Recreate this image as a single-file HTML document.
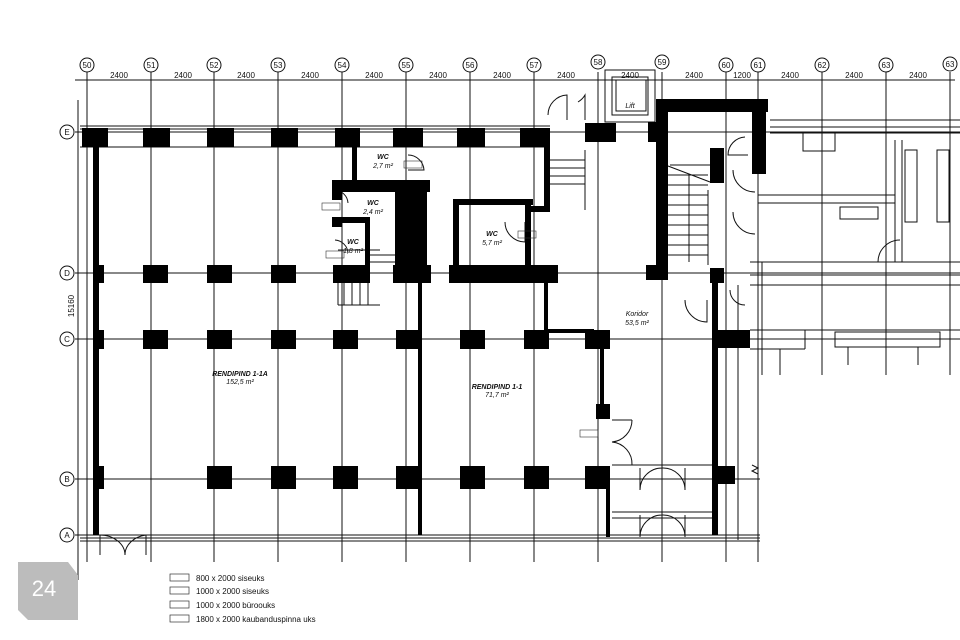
<!DOCTYPE html>
<html><head><meta charset="utf-8"><style>
html,body{margin:0;padding:0;background:#fff;}
svg{display:block;font-family:"Liberation Sans",sans-serif;}
</style></head><body>
<svg width="960" height="640" viewBox="0 0 960 640" xmlns="http://www.w3.org/2000/svg">
<rect width="960" height="640" fill="#fff"/>
<g stroke="#111" stroke-width="1">
<line x1="87" y1="72" x2="87" y2="562"/><line x1="151" y1="72" x2="151" y2="562"/>
<line x1="214" y1="72" x2="214" y2="562"/><line x1="278" y1="72" x2="278" y2="562"/>
<line x1="342" y1="72" x2="342" y2="562"/><line x1="406" y1="72" x2="406" y2="562"/>
<line x1="470" y1="72" x2="470" y2="562"/><line x1="534" y1="72" x2="534" y2="562"/>
<line x1="598" y1="72" x2="598" y2="562"/><line x1="662" y1="72" x2="662" y2="562"/>
<line x1="726" y1="72" x2="726" y2="562"/><line x1="758" y1="72" x2="758" y2="562"/>
<line x1="822" y1="72" x2="822" y2="375"/><line x1="886" y1="72" x2="886" y2="375"/>
<line x1="950" y1="72" x2="950" y2="375"/>
<line x1="75" y1="80" x2="955" y2="80"/>
<line x1="75" y1="132" x2="960" y2="132"/>
<line x1="75" y1="273" x2="960" y2="273"/>
<line x1="75" y1="339" x2="960" y2="339"/>
<line x1="75" y1="479" x2="760" y2="479"/>
<line x1="75" y1="535" x2="760" y2="535"/>
<line x1="78" y1="100" x2="78" y2="580"/>
</g>
<g fill="#fff" stroke="#111" stroke-width="1">
<circle cx="87" cy="65" r="7"/><circle cx="151" cy="65" r="7"/><circle cx="214" cy="65" r="7"/><circle cx="278" cy="65" r="7"/><circle cx="342" cy="65" r="7"/><circle cx="406" cy="65" r="7"/><circle cx="470" cy="65" r="7"/><circle cx="534" cy="65" r="7"/><circle cx="598" cy="62" r="7"/><circle cx="662" cy="62" r="7"/><circle cx="726" cy="65" r="7"/><circle cx="758" cy="65" r="7"/><circle cx="822" cy="65" r="7"/><circle cx="886" cy="65" r="7"/><circle cx="950" cy="64" r="7"/>
<circle cx="67" cy="132" r="7"/><circle cx="67" cy="273" r="7"/><circle cx="67" cy="339" r="7"/><circle cx="67" cy="479" r="7"/><circle cx="67" cy="535" r="7"/>
</g>
<g font-size="8" text-anchor="middle" fill="#111">
<text x="87" y="68">50</text><text x="151" y="68">51</text><text x="214" y="68">52</text><text x="278" y="68">53</text><text x="342" y="68">54</text><text x="406" y="68">55</text><text x="470" y="68">56</text><text x="534" y="68">57</text><text x="598" y="65">58</text><text x="662" y="65">59</text><text x="726" y="68">60</text><text x="758" y="68">61</text><text x="822" y="68">62</text><text x="886" y="68">63</text><text x="950" y="67">63</text>
<text x="67" y="135">E</text><text x="67" y="276">D</text><text x="67" y="342">C</text><text x="67" y="482">B</text><text x="67" y="538">A</text>
<text x="119" y="78">2400</text><text x="183" y="78">2400</text><text x="246" y="78">2400</text><text x="310" y="78">2400</text><text x="374" y="78">2400</text><text x="438" y="78">2400</text><text x="502" y="78">2400</text><text x="566" y="78">2400</text><text x="630" y="78">2400</text><text x="694" y="78">2400</text><text x="742" y="78">1200</text><text x="790" y="78">2400</text><text x="854" y="78">2400</text><text x="918" y="78">2400</text>
<text x="74" y="306" transform="rotate(-90 74 306)">15160</text>
</g>
<g stroke="#111" fill="none" stroke-width="1">
<line x1="80" y1="126" x2="550" y2="126"/><line x1="80" y1="129" x2="550" y2="129"/><line x1="80" y1="147" x2="550" y2="147"/>
<line x1="770" y1="120" x2="960" y2="120"/><line x1="770" y1="127" x2="960" y2="127"/><line x1="770" y1="133" x2="960" y2="133"/>
<rect x="605" y="70" width="50" height="52"/><rect x="612" y="77" width="36" height="38"/><rect x="616" y="80" width="30" height="31"/>
<line x1="750" y1="262" x2="960" y2="262"/><line x1="750" y1="275" x2="960" y2="275"/><line x1="750" y1="285" x2="960" y2="285"/>
<line x1="758" y1="195" x2="895" y2="195"/><line x1="758" y1="203" x2="895" y2="203"/>
<line x1="895" y1="140" x2="895" y2="262"/><line x1="902" y1="140" x2="902" y2="262"/>
<rect x="905" y="150" width="12" height="72"/><rect x="937" y="150" width="12" height="72"/>
<rect x="803" y="133" width="32" height="18"/>
<rect x="840" y="207" width="38" height="12"/>
<line x1="762" y1="262" x2="762" y2="375"/><line x1="750" y1="330" x2="960" y2="330"/><line x1="750" y1="349" x2="805" y2="349"/>
<rect x="835" y="332" width="105" height="15"/><line x1="848" y1="347" x2="848" y2="365"/><line x1="918" y1="347" x2="918" y2="365"/>
<line x1="780" y1="349" x2="780" y2="375"/><line x1="805" y1="330" x2="805" y2="349"/>
<line x1="738" y1="285" x2="738" y2="540"/><line x1="758" y1="375" x2="758" y2="540"/>
<line x1="548" y1="150" x2="548" y2="210"/><line x1="585" y1="150" x2="585" y2="210"/>
<line x1="548" y1="160" x2="585" y2="160"/><line x1="548" y1="168" x2="585" y2="168"/><line x1="548" y1="176" x2="585" y2="176"/><line x1="548" y1="184" x2="585" y2="184"/>
<line x1="670" y1="165" x2="712" y2="165"/>
<line x1="708" y1="190" x2="708" y2="265"/>
<line x1="338" y1="250" x2="380" y2="250"/><line x1="338" y1="283" x2="338" y2="305"/><line x1="338" y1="305" x2="380" y2="305"/>
<line x1="344" y1="283" x2="344" y2="305"/><line x1="352" y1="283" x2="352" y2="305"/><line x1="360" y1="283" x2="360" y2="305"/><line x1="368" y1="283" x2="368" y2="305"/>
<line x1="612" y1="465" x2="712" y2="465"/><line x1="612" y1="512" x2="712" y2="512"/><line x1="612" y1="518" x2="712" y2="518"/>
<line x1="640" y1="468" x2="640" y2="490"/><line x1="685" y1="468" x2="685" y2="490"/>
<line x1="640" y1="515" x2="640" y2="537"/><line x1="685" y1="515" x2="685" y2="537"/>
<path d="M640 490 A22 22 0 0 1 662 468 M685 490 A22 22 0 0 0 662 468"/>
<path d="M640 537 A22 22 0 0 1 662 515 M685 537 A22 22 0 0 0 662 515"/>
<path d="M612 420 L632 420 M612 465 L632 465 M632 420 A22 22 0 0 1 612 442 M632 465 A22 22 0 0 0 612 442"/>
<path d="M100 555 L100 535 M125 555 A25 20 0 0 0 100 535 M125 555 A25 20 0 0 1 146 535 M146 555 L146 535"/>
<path d="M567 120 L567 95 A20 20 0 0 0 548 115"/>
<path d="M585 120 L585 95 A20 20 0 0 1 578 102"/>
<path d="M745 137 A18 18 0 0 0 728 155 L748 155"/>
<path d="M733 170 A22 22 0 0 0 755 192"/><path d="M733 212 A22 22 0 0 0 755 234"/>
<path d="M878 262 A22 22 0 0 1 900 240"/>
<path d="M685 300 A22 22 0 0 0 707 322 L707 300"/>
<path d="M730 290 A15 15 0 0 0 745 305"/>
<path d="M408 155 A16 16 0 0 1 424 170 L408 170"/>
<path d="M335 190 A14 14 0 0 1 348 203"/>
<path d="M335 240 A14 14 0 0 1 348 253"/>
<path d="M505 222 A20 20 0 0 0 525 242 L525 222"/>
<line x1="80" y1="538" x2="760" y2="538"/><line x1="80" y1="541" x2="760" y2="541"/>
<path d="M752 465 L758 468 L752 471 L758 474" />
</g>
<g fill="#000">
<rect x="82" y="128" width="26" height="19"/><rect x="143" y="128" width="27" height="19"/><rect x="207" y="128" width="27" height="19"/><rect x="271" y="128" width="27" height="19"/><rect x="335" y="128" width="25" height="19"/><rect x="393" y="128" width="30" height="19"/><rect x="457" y="128" width="28" height="19"/><rect x="520" y="128" width="30" height="19"/><rect x="585" y="123" width="31" height="19"/>
<rect x="93" y="147" width="6" height="388"/>
<rect x="93" y="265" width="11" height="18"/><rect x="143" y="265" width="25" height="18"/><rect x="207" y="265" width="25" height="18"/><rect x="271" y="265" width="25" height="18"/>
<rect x="333" y="265" width="37" height="18"/><rect x="393" y="265" width="38" height="18"/>
<rect x="449" y="265" width="109" height="18"/>
<rect x="93" y="330" width="11" height="19"/><rect x="143" y="330" width="25" height="19"/><rect x="207" y="330" width="25" height="19"/><rect x="271" y="330" width="25" height="19"/><rect x="333" y="330" width="25" height="19"/><rect x="396" y="330" width="24" height="19"/><rect x="460" y="330" width="25" height="19"/><rect x="524" y="330" width="25" height="19"/><rect x="585" y="330" width="25" height="19"/>
<rect x="93" y="466" width="11" height="23"/><rect x="207" y="466" width="25" height="23"/><rect x="271" y="466" width="25" height="23"/><rect x="333" y="466" width="25" height="23"/><rect x="396" y="466" width="24" height="23"/><rect x="460" y="466" width="25" height="23"/><rect x="524" y="466" width="25" height="23"/><rect x="585" y="466" width="25" height="23"/><rect x="712" y="466" width="23" height="18"/>
<rect x="418" y="283" width="4" height="252"/><rect x="600" y="349" width="4" height="60"/><rect x="596" y="404" width="14" height="15"/><rect x="606" y="489" width="4" height="48"/>
<rect x="544" y="283" width="4" height="50"/><rect x="544" y="329" width="50" height="4"/>
<rect x="712" y="283" width="6" height="252"/><rect x="712" y="330" width="38" height="18"/>
<rect x="352" y="147" width="5" height="33"/>
<rect x="332" y="180" width="98" height="12"/><rect x="332" y="192" width="10" height="8"/>
<rect x="332" y="217" width="10" height="10"/><rect x="332" y="217" width="38" height="6"/>
<rect x="365" y="223" width="5" height="45"/>
<rect x="395" y="192" width="32" height="73"/>
<rect x="453" y="199" width="80" height="6"/><rect x="453" y="199" width="6" height="70"/><rect x="525" y="199" width="6" height="70"/>
<rect x="530" y="206" width="18" height="6"/><rect x="544" y="147" width="6" height="65"/>
<rect x="656" y="99" width="112" height="13"/><rect x="656" y="99" width="12" height="180"/><rect x="648" y="122" width="10" height="20"/><rect x="646" y="265" width="22" height="15"/>
<rect x="752" y="99" width="14" height="75"/><rect x="710" y="148" width="14" height="35"/><rect x="710" y="268" width="14" height="15"/>
</g>
<g stroke="#111" stroke-width="1">
<line x1="668" y1="166" x2="710" y2="182"/>
<line x1="668" y1="175" x2="708" y2="175"/><line x1="668" y1="185" x2="708" y2="185"/><line x1="668" y1="195" x2="708" y2="195"/><line x1="668" y1="205" x2="708" y2="205"/><line x1="668" y1="215" x2="708" y2="215"/><line x1="668" y1="225" x2="708" y2="225"/><line x1="668" y1="235" x2="708" y2="235"/><line x1="668" y1="245" x2="708" y2="245"/><line x1="668" y1="255" x2="708" y2="255"/>
<line x1="689" y1="175" x2="689" y2="262"/>
<line x1="370" y1="255" x2="395" y2="255"/><line x1="370" y1="262" x2="395" y2="262"/>
</g>
<g fill="#111" font-style="italic" text-anchor="middle">
<text x="383" y="159" font-size="7" font-weight="bold">WC</text><text x="383" y="168" font-size="7">2,7 m²</text>
<text x="373" y="205" font-size="7" font-weight="bold">WC</text><text x="373" y="214" font-size="7">2,4 m²</text>
<text x="353" y="244" font-size="7" font-weight="bold">WC</text><text x="353" y="253" font-size="7">1,8 m²</text>
<text x="492" y="236" font-size="7" font-weight="bold">WC</text><text x="492" y="245" font-size="7">5,7 m²</text>
<text x="630" y="108" font-size="7">Lift</text>
<text x="637" y="316" font-size="7">Koridor</text><text x="637" y="325" font-size="7">53,5 m²</text>
<text x="497" y="389" font-size="7" font-weight="bold">RENDIPIND 1-1</text><text x="497" y="397" font-size="7">71,7 m²</text>
<text x="240" y="376" font-size="7" font-weight="bold">RENDIPIND 1-1A</text><text x="240" y="384" font-size="7">152,5 m²</text>
</g>
<g font-size="5" fill="#333" stroke="#333" stroke-width="0.6">
<rect x="404" y="161" width="18" height="7" fill="none"/><rect x="322" y="203" width="18" height="7" fill="none"/><rect x="326" y="251" width="18" height="7" fill="none"/><rect x="518" y="231" width="18" height="7" fill="none"/><rect x="580" y="430" width="18" height="7" fill="none"/>
</g>
<g font-size="8" fill="#111">
<rect x="170" y="574" width="19" height="7" fill="none" stroke="#333" stroke-width="0.7"/><text x="196" y="581">800  x  2000  siseuks</text>
<rect x="170" y="587" width="19" height="7" fill="none" stroke="#333" stroke-width="0.7"/><text x="196" y="594">1000  x  2000  siseuks</text>
<rect x="170" y="601" width="19" height="7" fill="none" stroke="#333" stroke-width="0.7"/><text x="196" y="608">1000  x  2000  büroouks</text>
<rect x="170" y="615" width="19" height="7" fill="none" stroke="#333" stroke-width="0.7"/><text x="196" y="622">1800  x  2000  kaubanduspinna  uks</text>
</g>
<path d="M18 562 L68 562 L78 575 L78 620 L28 620 L18 610 Z" fill="#bcbcbc"/>
<text x="44" y="596" font-size="22" fill="#fff" text-anchor="middle">24</text>
</svg>
</body></html>
